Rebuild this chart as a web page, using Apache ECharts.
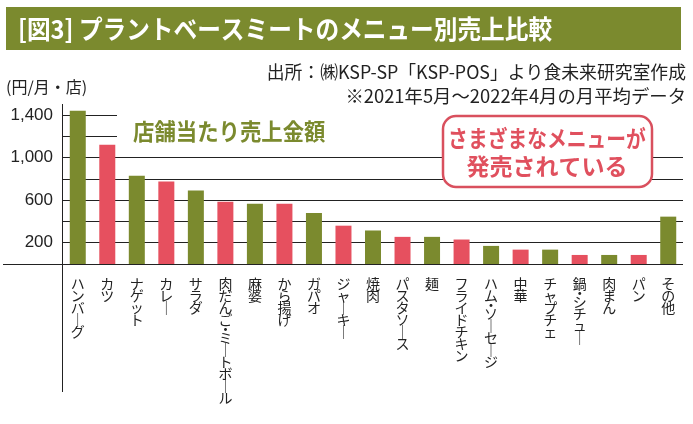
<!DOCTYPE html>
<html>
<head>
<meta charset="utf-8">
<script src="https://cdn.jsdelivr.net/npm/echarts@6/dist/echarts.min.js"></script>
<style>html,body{margin:0;padding:0;background:#fff;}#c{width:693px;height:424px;}</style>
</head>
<body>
<div id="c"></div>
<script>
const categories = ['ハンバーグ','カツ','ナゲット','カレー','サラダ','肉だんご・ミートボール','麻婆','から揚げ','ガパオ','ジャーキー','焼肉','パスタソース','麺','フライドチキン','ハム・ソーセージ','中華','チャプチェ','鍋・シチュー','肉まん','パン','その他'];
const sales = [1440,1120,830,775,690,585,565,565,480,360,315,255,255,230,170,135,135,85,85,85,445];
const yTickLabels = [200,600,1000,1400];

const GREEN = '#7b8a2e', RED = '#e6505f', INK = '#222';
const JP = '"Noto Sans CJK JP", "Noto Sans", sans-serif';
const G = {left:63, right:10, top:115, bottom:160};
const W = 693, H = 424;
const baseY = H - G.bottom;

const chart = echarts.init(document.getElementById('c'), null, {renderer:'canvas'});
chart.setOption({
  animation:false,
  backgroundColor:'#fff',
  grid:{left:G.left, right:G.right, top:G.top, bottom:G.bottom, containLabel:false},
  xAxis:{
    type:'category', data:categories,
    axisLine:{show:false}, axisTick:{show:false},
    axisLabel:{
      interval:0, margin:14, color:INK, fontSize:14, lineHeight:12, fontFamily:JP,
      verticalAlign:'top',
      formatter:v => v.split('').map(c => c==='ー' ? '｜' : (c==='・' ? '{d|・}' : c)).join('\n'),
      rich:{d:{fontSize:14, lineHeight:6, color:INK, fontFamily:JP}}
    }
  },
  yAxis:{
    type:'value', min:0, max:1400, interval:200,
    axisLine:{show:false}, axisTick:{show:false},
    splitLine:{show:true, lineStyle:{color:INK, width:1}},
    axisLabel:{
      margin:10, color:INK, fontSize:17, fontFamily:'"Liberation Sans", Arial, sans-serif',
      formatter:v => yTickLabels.includes(v) ? v.toLocaleString('en-US') : ''
    }
  },
  series:[{
    type:'bar', data:sales, barWidth:16, clip:false,
    itemStyle:{color:p => p.dataIndex % 2 === 0 ? GREEN : RED}
  }],
  graphic:[
    {type:'rect', z:10, shape:{x:6,y:7,width:675,height:43}, style:{fill:GREEN}},
    {type:'text', z:11, x:18, y:29, scaleX:0.91, style:{text:'[図3] プラントベースミートのメニュー別売上比較', fill:'#fff', fontSize:26, fontWeight:'bold', fontFamily:JP, verticalAlign:'middle', align:'left'}},
    {type:'text', z:11, x:686, y:72, scaleX:0.99, style:{text:'出所：㈱KSP-SP「KSP-POS」より食未来研究室作成', fill:INK, fontSize:18, fontFamily:JP, verticalAlign:'middle', align:'right'}},
    {type:'text', z:11, x:686, y:96, scaleX:1.02, style:{text:'※2021年5月～2022年4月の月平均データ', fill:INK, fontSize:18, fontFamily:JP, verticalAlign:'middle', align:'right'}},
    {type:'text', z:11, x:6, y:87, style:{text:'(円/月・店)', fill:INK, fontSize:16, fontFamily:JP, verticalAlign:'middle', align:'left'}},
    {type:'rect', z:10, shape:{x:117,y:104,width:575,height:44}, style:{fill:'#fff'}},
    {type:'text', z:11, x:133, y:131, scaleX:0.93, style:{text:'店舗当たり売上金額', fill:GREEN, fontSize:23, fontWeight:'bold', fontFamily:JP, verticalAlign:'middle', align:'left'}},
    {type:'rect', z:10, shape:{x:443,y:116,width:209,height:71,r:13}, style:{fill:'#fff', stroke:'#d9505e', lineWidth:2.5}},
    {type:'text', z:11, x:547, y:138, scaleX:0.86, style:{text:'さまざまなメニューが', fill:'#e0505e', fontSize:23, fontWeight:'bold', fontFamily:JP, verticalAlign:'middle', align:'center'}},
    {type:'text', z:11, x:547, y:166, scaleX:1.0, style:{text:'発売されている', fill:'#e0505e', fontSize:23, fontWeight:'bold', fontFamily:JP, verticalAlign:'middle', align:'center'}},
    {type:'line', z:12, shape:{x1:G.left-0.5, y1:104, x2:G.left-0.5, y2:392}, style:{stroke:INK, lineWidth:1}},
    {type:'line', z:12, shape:{x1:3, y1:baseY+0.5, x2:W-G.right, y2:baseY+0.5}, style:{stroke:INK, lineWidth:1}}
  ]
});
</script>
</body>
</html>
